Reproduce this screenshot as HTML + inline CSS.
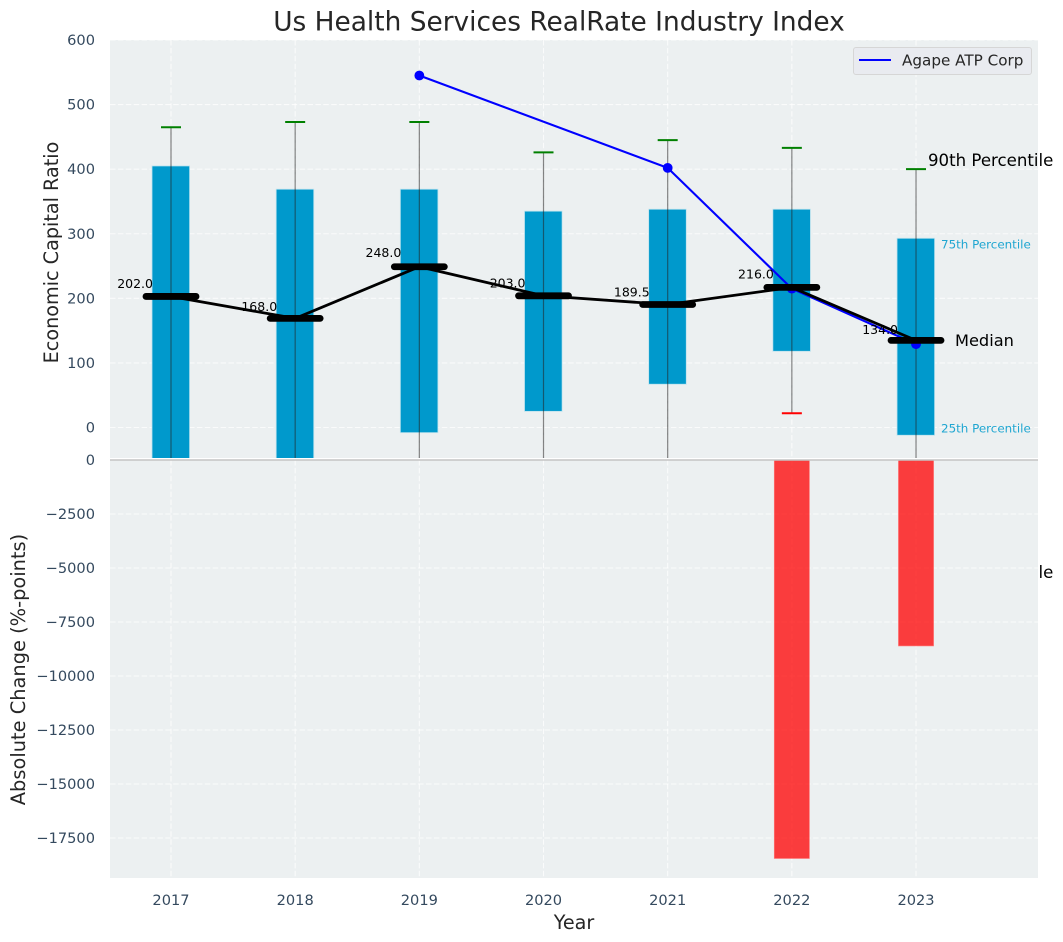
<!DOCTYPE html>
<html lang="en">
<head>
<meta charset="utf-8">
<title>Us Health Services RealRate Industry Index</title>
<style>
html,body{margin:0;padding:0;background:#fff;}
svg{display:block;font-family:"DejaVu Sans","Liberation Sans",sans-serif;}
</style>
</head>
<body>
<svg id="chart" width="1063" height="942" viewBox="0 0 1063 942" xmlns="http://www.w3.org/2000/svg"></svg>
<script>
// Chart data
const years = [2017, 2018, 2019, 2020, 2021, 2022, 2023];
const p25 = [-60, -60, -8, 25, 67, 118, -12];
const p75 = [405, 369, 369, 335, 338, 338, 293];
const p90 = [465, 473, 473, 426, 445, 433, 400];
const p10 = [-100, -100, -100, -100, -100, 22, -100];
const medians = [202, 168, 248, 203, 189.5, 216, 134];
const agapeValues = [null, null, 545, null, 402, 215, 129];
const absoluteChange = [0, 0, 0, 0, 0, -18450, -8610];
const topTicks = [0, 100, 200, 300, 400, 500, 600];
const bottomTicks = [0, -2500, -5000, -7500, -10000, -12500, -15000, -17500];

const NS = 'http://www.w3.org/2000/svg';
const svg = document.getElementById('chart');
const PLOT_L = 110, PLOT_R = 1038, TOP_T = 40, TOP_B = 458, BOT_T = 460, BOT_B = 878;

function xScale(year) { return 171 + (year - 2017) * 124.17; }
function yTop(v) { return 427.5 - v * 0.64583; }
function yBot(v) { return 460 - v * 0.0216; }
function fmtTick(v) { return v < 0 ? '\u2212' + Math.abs(v) : String(v); }

function mk(tag, parent, attrs) {
  const el = document.createElementNS(NS, tag);
  for (const k in attrs) el.setAttribute(k, attrs[k]);
  parent.appendChild(el);
  return el;
}
const GRID_DASH = '5.5 2.4';
const GRID_OPACITY = 0.72;
let el;

// clip for upper axes
const defs = mk('defs', svg, {});
const clip = mk('clipPath', defs, { id: 'topClip' });
mk('rect', clip, { x: PLOT_L, y: TOP_T, width: PLOT_R - PLOT_L, height: TOP_B - TOP_T });
const clipB = mk('clipPath', defs, { id: 'botClip' });
mk('rect', clipB, { x: PLOT_L, y: BOT_T, width: PLOT_R - PLOT_L, height: BOT_B - BOT_T });

// Upper axes background
el = mk('rect', svg, { x: PLOT_L, y: TOP_T, width: PLOT_R - PLOT_L, height: TOP_B - TOP_T, fill: '#ecf0f1' });



// Annotation hidden behind lower axes, its tail pokes out on the right
el = mk('text', svg, { x: 928, y: 578, 'font-size': 16.6, fill: '#000' });
el.textContent = '10th Percentile';



// Upper layer
const topG = mk('g', svg, { 'clip-path': 'url(#topClip)' });



topTicks.forEach(function (t) {
  const line = mk('line', topG, { x1: PLOT_L, x2: PLOT_R, y1: yTop(t), y2: yTop(t), stroke: '#fff', 'stroke-width': 1.1, 'stroke-opacity': GRID_OPACITY, 'stroke-dasharray': GRID_DASH });
  
  
});
years.forEach(function (yr) {
  const line = mk('line', topG, { x1: xScale(yr), x2: xScale(yr), y1: TOP_T, y2: TOP_B, stroke: '#fff', 'stroke-width': 1.1, 'stroke-opacity': GRID_OPACITY, 'stroke-dasharray': GRID_DASH });
  
  
});

// IQR bars
years.forEach(function (yr, i) {
  const top = yTop(p75[i]), bot = yTop(p25[i]);
  const bar = mk('rect', topG, { x: xScale(yr) - 19, y: top, width: 37.6, height: bot - top, fill: '#0099cc', stroke: '#bfe3ee', 'stroke-width': 0.8 });
  
  
});

// Whiskers and caps
years.forEach(function (yr, i) {
  const cx = xScale(yr);
  const w = mk('line', topG, { x1: cx, x2: cx, y1: yTop(p90[i]), y2: yTop(p10[i]), stroke: '#222', 'stroke-opacity': 0.55, 'stroke-width': 1.2 });
  
  
  const hi = mk('line', topG, { x1: cx - 10, x2: cx + 10, y1: yTop(p90[i]), y2: yTop(p90[i]), stroke: 'green', 'stroke-width': 2 });
  
  
  const lo = mk('line', topG, { x1: cx - 10, x2: cx + 10, y1: yTop(p10[i]), y2: yTop(p10[i]), stroke: 'red', 'stroke-width': 2 });
  
  
});

// Agape ATP Corp series
const agapePts = [];
years.forEach(function (yr, i) {
  if (agapeValues[i] !== null) agapePts.push([xScale(yr), yTop(agapeValues[i])]);
});
el = mk('polyline', topG, { points: agapePts.map(function (p) { return p.join(','); }).join(' '), fill: 'none', stroke: '#0000ff', 'stroke-width': 2.1 });


agapePts.forEach(function (p) {
  const dot = mk('circle', topG, { cx: p[0], cy: p[1], r: 4.9, fill: '#0000ff' });
  
  
});

// Median line and median ticks
el = mk('polyline', topG, { points: years.map(function (yr, i) { return xScale(yr) + ',' + (yTop(medians[i]) - 0.6); }).join(' '), fill: 'none', stroke: '#000', 'stroke-width': 2.8 });


years.forEach(function (yr, i) {
  const m = mk('line', topG, { x1: xScale(yr) - 25, x2: xScale(yr) + 25, y1: yTop(medians[i]) - 0.6, y2: yTop(medians[i]) - 0.6, stroke: '#000', 'stroke-width': 6.8, 'stroke-linecap': 'round' });
  
  
});

// Median value labels
years.forEach(function (yr, i) {
  const t = mk('text', svg, { x: xScale(yr) - 18, y: yTop(medians[i] * 1.05) - 2.4, 'font-size': 12.5, fill: '#000', 'text-anchor': 'end' });
  t.textContent = medians[i].toFixed(1);
  
  
});

// Lower axes
el = mk('rect', svg, { x: PLOT_L, y: BOT_T, width: PLOT_R - PLOT_L, height: BOT_B - BOT_T, fill: '#ecf0f1' });



const botG = mk('g', svg, { 'clip-path': 'url(#botClip)' });


bottomTicks.forEach(function (t) {
  const line = mk('line', botG, { x1: PLOT_L, x2: PLOT_R, y1: yBot(t), y2: yBot(t), stroke: '#fff', 'stroke-width': 1.1, 'stroke-opacity': GRID_OPACITY, 'stroke-dasharray': GRID_DASH });
  
  
});
years.forEach(function (yr) {
  const line = mk('line', botG, { x1: xScale(yr), x2: xScale(yr), y1: BOT_T, y2: BOT_B, stroke: '#fff', 'stroke-width': 1.1, 'stroke-opacity': GRID_OPACITY, 'stroke-dasharray': GRID_DASH });
  
  
});
years.forEach(function (yr, i) {
  const v = absoluteChange[i];
  if (v === 0) return;
  const bar = mk('rect', botG, { x: xScale(yr) - 17.6, y: yBot(0), width: 35.2, height: yBot(v) - yBot(0), fill: '#ff0000', 'fill-opacity': 0.75, stroke: '#ff8080', 'stroke-width': 0.6 });
  
  
});

// Separator between panels
el = mk('line', svg, { x1: PLOT_L, x2: PLOT_R, y1: 460, y2: 460, stroke: '#c4c4c4', 'stroke-width': 1.4 });



// Tick labels
topTicks.forEach(function (t) {
  const lab = mk('text', svg, { x: 95, y: yTop(t) + 5, 'font-size': 14.6, fill: '#34495e', 'text-anchor': 'end' });
  lab.textContent = fmtTick(t);
  
  
});
bottomTicks.forEach(function (t) {
  const lab = mk('text', svg, { x: 95, y: yBot(t) + 5, 'font-size': 14.6, fill: '#34495e', 'text-anchor': 'end' });
  lab.textContent = fmtTick(t);
  
  
});
years.forEach(function (yr) {
  const lab = mk('text', svg, { x: xScale(yr), y: 905, 'font-size': 14.6, fill: '#34495e', 'text-anchor': 'middle' });
  lab.textContent = String(yr);
  
  
});

// Titles
el = mk('text', svg, { x: 559, y: 30.5, 'font-size': 26.4, fill: '#262626', 'text-anchor': 'middle' });
el.textContent = 'Us Health Services RealRate Industry Index';



el = mk('text', svg, { x: 574, y: 929, 'font-size': 19.2, fill: '#262626', 'text-anchor': 'middle' });
el.textContent = 'Year';



el = mk('text', svg, { x: 0, y: 0, 'font-size': 19.2, fill: '#262626', 'text-anchor': 'middle', transform: 'translate(58,252.5) rotate(-90)' });
el.textContent = 'Economic Capital Ratio';



el = mk('text', svg, { x: 0, y: 0, 'font-size': 19.4, fill: '#262626', 'text-anchor': 'middle', transform: 'translate(25,669.5) rotate(-90)' });
el.textContent = 'Absolute Change (%-points)';



// Percentile annotations
el = mk('text', svg, { x: 928, y: 166, 'font-size': 16.6, fill: '#000' });
el.textContent = '90th Percentile';



el = mk('text', svg, { x: 955, y: 346, 'font-size': 16.2, fill: '#000' });
el.textContent = 'Median';



el = mk('text', svg, { x: 941, y: 248.5, 'font-size': 11.9, fill: '#1fa6d1' });
el.textContent = '75th Percentile';



el = mk('text', svg, { x: 941, y: 432.5, 'font-size': 11.9, fill: '#1fa6d1' });
el.textContent = '25th Percentile';



// Legend
const legend = mk('g', svg, {});


el = mk('rect', legend, { x: 853.5, y: 47.5, width: 178, height: 27, rx: 2.5, fill: '#e9ebf0', stroke: '#d6d6d6', 'stroke-width': 1 });


el = mk('line', legend, { x1: 859, x2: 891, y1: 60, y2: 60, stroke: '#0000ff', 'stroke-width': 2.1 });


el = mk('text', legend, { x: 902, y: 65.5, 'font-size': 15.2, fill: '#262626' });
el.textContent = 'Agape ATP Corp';


</script>
</body>
</html>
